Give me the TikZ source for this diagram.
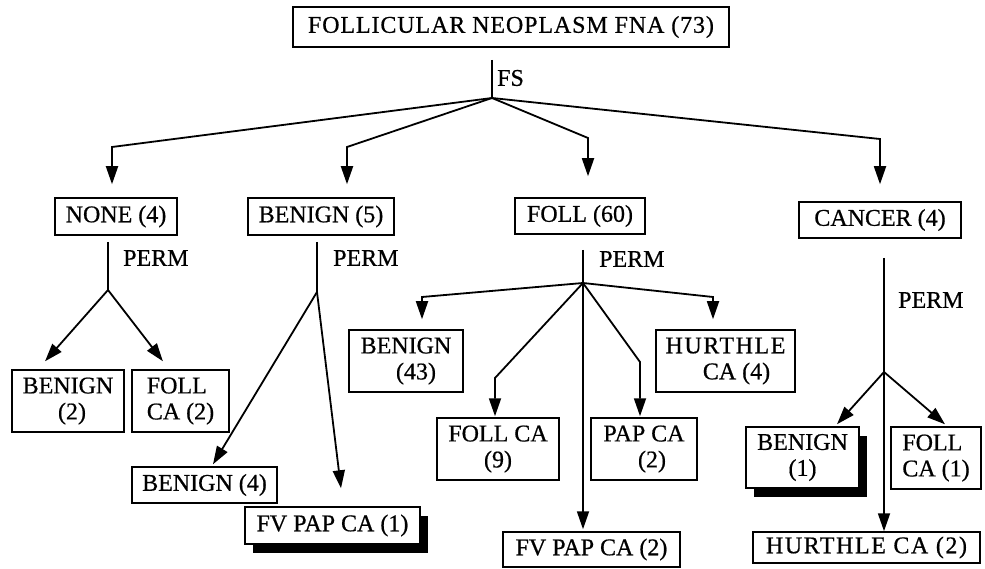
\documentclass[tikz,border=0pt]{standalone}
\usepackage{fontspec}
\setmainfont{Liberation Serif}[UprightFeatures={FakeBold=0.6}]
\usetikzlibrary{arrows.meta,shadows}
\begin{document}
\begin{tikzpicture}[x=1pt,y=-1pt,
  box/.style={draw, fill=white, line width=1.5pt, inner sep=0pt,
    font=\fontsize{24}{26}\selectfont, align=center},
  boxl/.style={box, align=left},
  shadowed/.style={drop shadow={shadow xshift=8pt, shadow yshift=-9pt,
    fill=black, opacity=1}},
  link/.style={line width=1.8pt},
  arr/.style={link, -{Triangle[length=18pt,width=12pt]}},
  lbl/.style={font=\fontsize{24}{26}\selectfont, inner sep=0pt, anchor=west},
  wide/.style={font=\fontsize{24}{26}\selectfont\addfontfeatures{LetterSpace=#1}}
]
\useasboundingbox (0,0) rectangle (985,569);

% ---- boxes ----
\node[box, wide=3.7, minimum width=436pt, minimum height=40pt] (top) at (511,27) {FOLLICULAR NEOPLASM FNA (73)};

\node[box, minimum width=122pt, minimum height=37pt] (none) at (116,216.5) {NONE (4)};
\node[box, minimum width=146pt, minimum height=37pt] (ben5) at (321,216.5) {BENIGN (5)};
\node[box, minimum width=130pt, minimum height=36pt] (foll) at (580,216) {FOLL (60)};
\node[box, minimum width=162pt, minimum height=36pt] (canc) at (880,220) {CANCER (4)};

\node[box, minimum width=112pt, minimum height=62pt] (ben2) at (68,401) {BENIGN\\\hspace*{8pt}(2)};
\node[boxl, minimum width=97pt, minimum height=62pt] (fca2) at (180.5,401) {FOLL\\CA (2)};
\node[box, minimum width=145pt, minimum height=36pt] (ben4) at (204.5,485) {BENIGN (4)};
\node[box, shadowed, minimum width=175pt, minimum height=37pt] (fvp1) at (332.5,525.5) {FV PAP CA (1)};

\node[box, minimum width=114pt, minimum height=62pt] (ben43) at (406,361) {BENIGN\\\hspace*{20pt}(43)};
\node[box, minimum width=139pt, minimum height=62pt] (hca4) at (725.5,361) {{\addfontfeatures{LetterSpace=6.5}HURTHLE}\\\hspace*{22pt}CA (4)};
\node[box, minimum width=122pt, minimum height=62pt] (fca9) at (498,449) {FOLL CA\\(9)};
\node[box, minimum width=106pt, minimum height=62pt] (pap2) at (644,449) {PAP CA\\\hspace*{16pt}(2)};
\node[box, minimum width=177pt, minimum height=35pt] (fvp2) at (591.5,549.5) {FV PAP CA (2)};

\node[box, shadowed, minimum width=113pt, minimum height=61pt] (ben1) at (802.5,457.5) {BENIGN\\(1)};
\node[boxl, minimum width=90pt, minimum height=62pt] (fca1) at (936,458) {FOLL\\CA (1)};
\node[box, wide=6.5, minimum width=227pt, minimum height=31pt] (hca2) at (866.5,547.5) {HURTHLE CA (2)};

% ---- frozen section split ----
\coordinate (fs-top) at (492,60);
\coordinate (fs) at (492,98);
\draw[link] (fs-top) -- (fs);
\node[lbl] (fs-lbl) at (497,78) {FS};
\draw[arr, shorten >=13pt] (fs) -- (112,147) -- (none.north -| 112,0);
\draw[arr, shorten >=13pt] (fs) -- (347,147) -- (ben5.north -| 347,0);
\draw[arr, shorten >=21pt] (fs) -- (588,138) -- (foll.north -| 588,0);
\draw[arr, shorten >=17pt] (fs) -- (880,139) -- (canc.north -| 880,0);

% ---- NONE ----
\coordinate (none-s) at (108,242);
\coordinate (none-f) at (108,290);
\draw[link] (none-s) -- (none-f);
\node[lbl] (none-lbl) at (123,258) {PERM};
\draw[arr, shorten >=10.6pt] (none-f) -- (ben2.north -| 38,0);
\draw[arr, shorten >=10.1pt] (none-f) -- (fca2.north -| 169.1,0);

% ---- BENIGN (5) ----
\coordinate (ben5-s) at (317,242);
\coordinate (ben5-f) at (317,292);
\draw[link] (ben5-s) -- (ben5-f);
\node[lbl] (ben5-lbl) at (333,258) {PERM};
\draw[arr, shorten >=2.3pt] (ben5-f) -- (ben4.north -| 211.8,0);
\draw[arr, shorten >=18.1pt] (ben5-f) -- (fvp1.north -| 343.2,0);

% ---- FOLL (60) ----
\coordinate (foll-s) at (583,250);
\coordinate (foll-f) at (583,283);
\draw[link] (foll-s) -- (foll-f);
\node[lbl] (foll-lbl) at (599,259) {PERM};
\draw[arr, shorten >=10pt] (foll-f) -- (422,297) -- (ben43.north -| 422,0);
\draw[arr, shorten >=1pt] (foll-f) -- (495,378) -- (fca9.north -| 495,0);
\draw[arr, shorten >=1pt] (foll-f) -- (640,362) -- (pap2.north -| 640,0);
\draw[arr, shorten >=10pt] (foll-f) -- (713,297) -- (hca4.north -| 713,0);
\draw[arr, shorten >=2pt] (foll-f) -- (fvp2.north -| 583,0);

% ---- CANCER (4) ----
\coordinate (canc-s) at (884,258);
\coordinate (canc-f) at (884,372);
\draw[link] (canc-s) -- (canc-f);
\node[lbl] (canc-lbl) at (898,300) {PERM};
\draw[arr, shorten >=2.7pt] (canc-f) -- (ben1.north -| 835.2,0);
\draw[arr, shorten >=3pt] (canc-f) -- (fca1.north -| 947.3,0);
\draw[arr] (canc-f) -- (hca2.north -| 884,0);
\end{tikzpicture}
\end{document}
